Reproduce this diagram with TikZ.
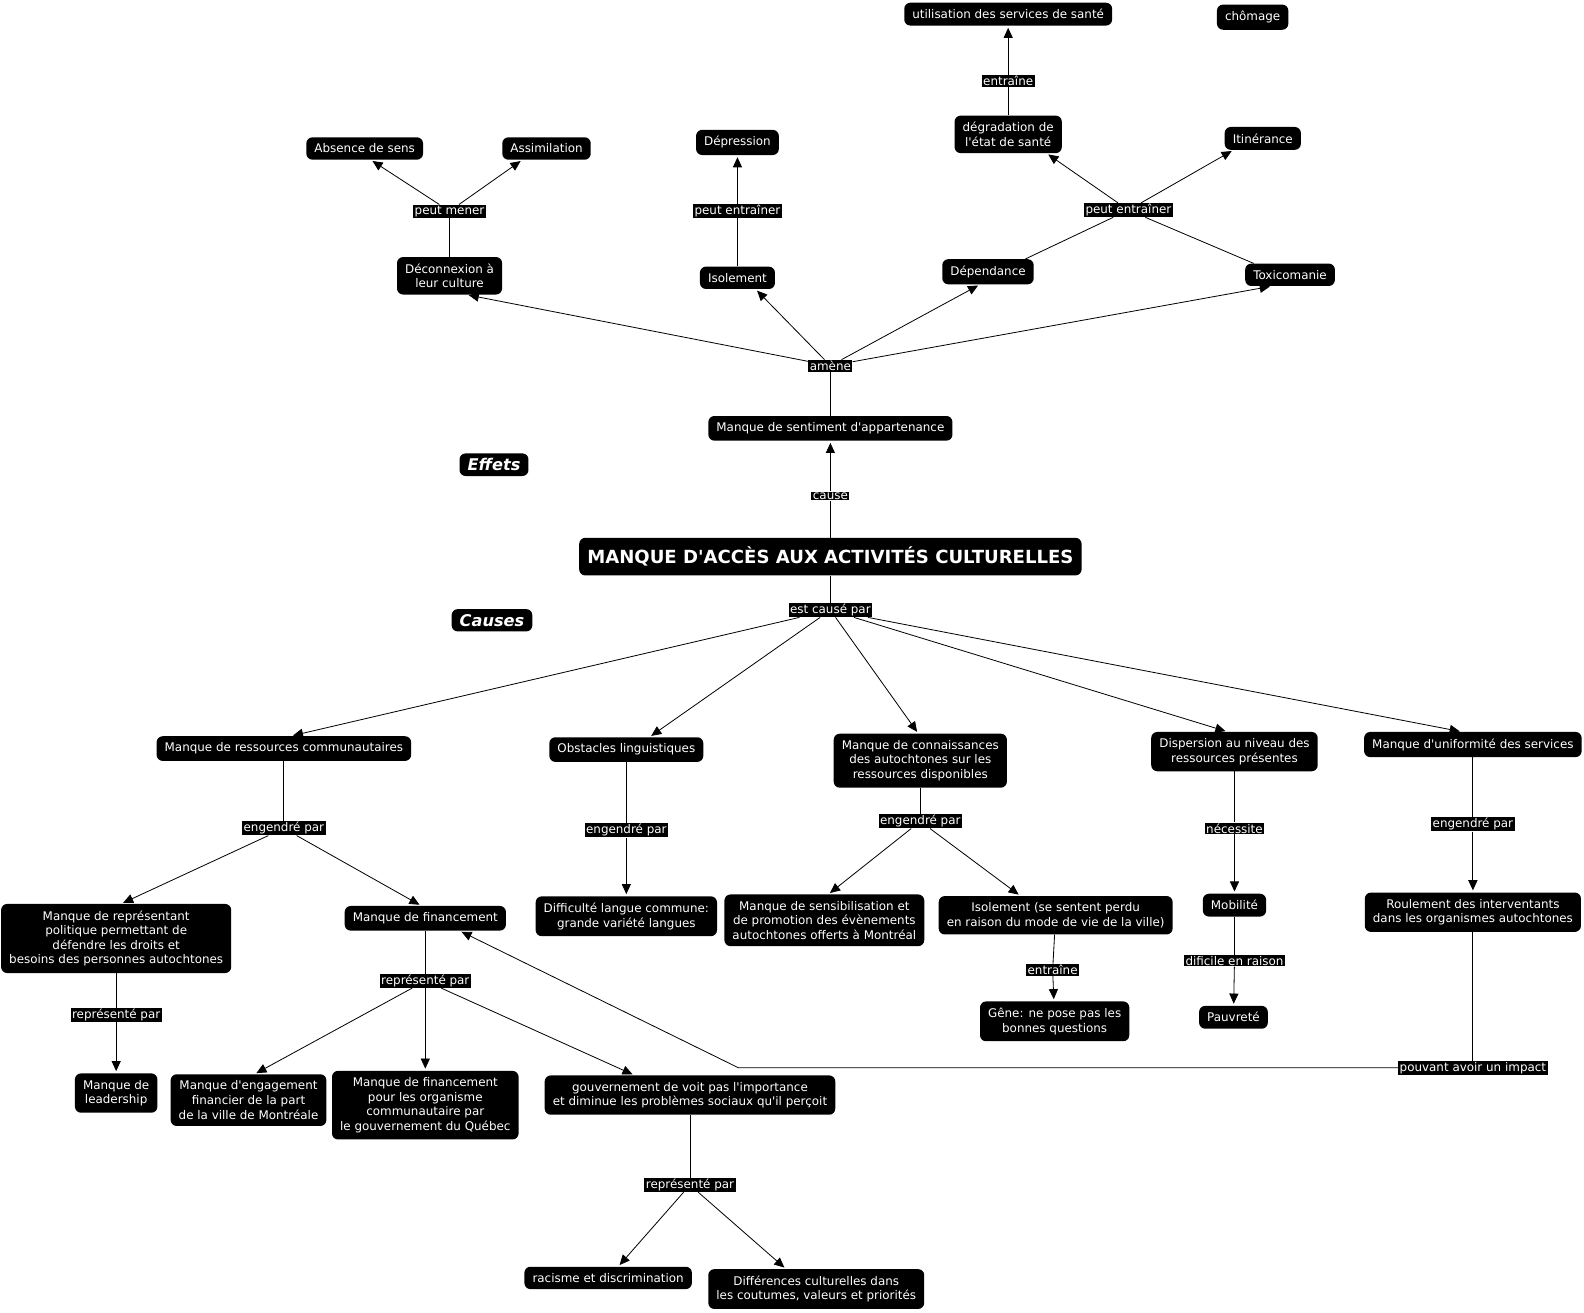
\documentclass[tikz,border=0pt]{standalone}
\usepackage{fontspec}
\setmainfont{DejaVu Sans}[Ligatures=ResetAll]
\usetikzlibrary{arrows.meta}
\newcommand{\sq}{\XeTeXglyph\XeTeXcharglyph"0027\relax}
\begin{document}
\begin{tikzpicture}[x=1pt,y=-1pt,
 concept/.style={fill=black, text=white, rounded corners=6pt, inner xsep=8pt, inner ysep=6.5pt, align=center, font=\fontsize{11.8}{14.5}\selectfont},
 lbl/.style={fill=black, text=white, inner xsep=1.5pt, inner ysep=1pt, font=\fontsize{11.8}{14}\selectfont},
 link/.style={draw=black, line width=0.8pt},
 arr/.style={link, -{Triangle[length=10pt,width=9pt]}, shorten >=2pt},
 section/.style={fill=black, text=white, rounded corners=6pt, inner xsep=8pt, inner ysep=5pt, font=\bfseries\itshape\fontsize{16}{18}\selectfont}
]
\useasboundingbox (0,0) rectangle (1568,1299);
% ---- effects ----
\node[concept] (util) at (998,14) {utilisation des services de santé};
\node[concept] (chom) at (1240,17) {chômage};
\node[lbl] (lentr1) at (998,80) {entraîne};
\node[concept] (degr) at (998,133) {dégradation de\\l\sq{}état de santé};
\node[concept] (itin) at (1250,137) {Itinérance};
\node[lbl] (lpe2) at (1117,208) {peut entraîner};
\node[concept] (depd) at (978,269) {Dépendance};
\node[concept] (toxi) at (1277,272) {Toxicomanie};
\node[concept] (abs) at (361,147) {Absence de sens};
\node[concept] (assim) at (541,147) {Assimilation};
\node[lbl] (lmener) at (445,209) {peut mener};
\node[concept] (deco) at (445,273) {Déconnexion à\\leur culture};
\node[concept] (depr) at (730,141) {Dépression};
\node[lbl] (lpe1) at (730,209) {peut entraîner};
\node[concept] (isol) at (730,275) {Isolement};
\node[lbl] (lamene) at (822,362) {amène};
\node[concept] (sent) at (822,424) {Manque de sentiment d\sq{}appartenance};
\node[section] (effets) at (489,460) {Effets};
\node[lbl] (lcause) at (822,491) {cause};
\node[concept, inner ysep=9pt, font=\bfseries\fontsize{17.9}{20}\selectfont] (main) at (822,551) {MANQUE D\sq{}ACCÈS AUX ACTIVITÉS CULTURELLES};
\node[section] (causes) at (487,614) {Causes};
\node[lbl] (lcausepar) at (822,604) {est causé par};
% ---- causes ----
\node[concept] (ress) at (281,741) {Manque de ressources communautaires};
\node[concept] (obst) at (620,742) {Obstacles linguistiques};
\node[concept] (conn) at (911,753) {Manque de connaissances\\des autochtones sur les\\ressources disponibles};
\node[concept] (disp) at (1222,744) {Dispersion au niveau des\\ressources présentes};
\node[concept] (unif) at (1458,737) {Manque d\sq{}uniformité des services};
\node[lbl] (leng1) at (281,820) {engendré par};
\node[lbl] (leng2) at (620,822) {engendré par};
\node[lbl] (leng3) at (911,813) {engendré par};
\node[lbl] (lnec) at (1222,820) {nécessite};
\node[lbl] (leng4) at (1458,816) {engendré par};
\node[concept] (rep) at (115,929) {Manque de représentant\\politique permettant de\\défendre les droits et\\besoins des personnes autochtones};
\node[concept] (fin) at (421,909) {Manque de financement};
\node[concept] (diffl) at (620,907) {Difficulté langue commune:\\grande variété langues};
\node[concept] (sens) at (816,911) {Manque de sensibilisation et\\de promotion des évènements\\autochtones offerts à Montréal};
\node[concept] (iso2) at (1045,906) {Isolement (se sentent perdu\\en raison du mode de vie de la ville)};
\node[lbl] (lentr2) at (1042,960) {entraîne};
\node[concept] (gene) at (1044,1011) {Gêne: ne pose pas les\\bonnes questions};
\node[concept] (mob) at (1222,896) {Mobilité};
\node[lbl] (ldif) at (1222,951) {dificile en raison};
\node[concept] (pauv) at (1221,1007) {Pauvreté};
\node[concept] (roul) at (1458,903) {Roulement des interventants\\dans les organismes autochtones};
\node[lbl] (limpact) at (1458,1057) {pouvant avoir un impact};
\node[lbl] (lrep1) at (115,1005) {représenté par};
\node[concept] (lead) at (115,1082) {Manque de\\leadership};
\node[lbl] (lrep2) at (421,971) {représenté par};
\node[concept] (eng) at (246,1089) {Manque d\sq{}engagement\\financier de la part\\de la ville de Montréale};
\node[concept] (finqc) at (421,1094) {Manque de financement\\pour les organisme\\communautaire par\\le gouvernement du Québec};
\node[concept] (gov) at (683,1084) {gouvernement de voit pas l\sq{}importance\\et diminue les problèmes sociaux qu\sq{}il perçoit};
\node[lbl] (lrep3) at (683,1173) {représenté par};
\node[concept] (rac) at (602,1265) {racisme et discrimination};
\node[concept] (diff) at (808,1276) {Différences culturelles dans\\les coutumes, valeurs et priorités};
\coordinate (bend) at (731,1057);
% ---- connectors (effects) ----
\draw[link] (sent) -- (lamene);
\draw[arr] (lamene) -- ([xshift=17pt]deco.south);
\draw[arr] (lamene) -- ([xshift=18pt]isol.south);
\draw[arr] (lamene) -- ([xshift=-8pt]depd.south);
\draw[arr] (lamene) -- ([xshift=-18pt]toxi.south);
\draw[link] (deco) -- (lmener);
\draw[arr] (lmener) -- ([xshift=6pt]abs.south);
\draw[arr] (lmener) -- ([xshift=-24pt]assim.south);
\draw[link] (isol) -- (lpe1);
\draw[arr] (lpe1) -- (depr);
\draw[link] ([xshift=37pt]depd.north) -- (lpe2);
\draw[link] ([xshift=-36pt]toxi.north) -- (lpe2);
\draw[arr] (lpe2) -- ([xshift=38pt]degr.south);
\draw[arr] (lpe2) -- ([xshift=-29pt]itin.south);
\draw[link] (degr) -- (lentr1);
\draw[arr] (lentr1) -- (util);
\draw[link] (main) -- (lcause);
\draw[arr] (lcause) -- (sent);
% ---- connectors (causes) ----
\draw[link] (main) -- (lcausepar);
\draw[arr] (lcausepar) -- ([xshift=7pt]ress.north);
\draw[arr] (lcausepar) -- ([xshift=23pt]obst.north);
\draw[arr] (lcausepar) -- ([xshift=-2pt]conn.north);
\draw[arr] (lcausepar) -- ([xshift=-7pt]disp.north);
\draw[arr] (lcausepar) -- ([xshift=-11pt]unif.north);
\draw[link] (ress) -- (leng1);
\draw[arr] (leng1) -- ([xshift=5pt]rep.north);
\draw[arr] (leng1) -- ([xshift=-4pt]fin.north);
\draw[link] (rep) -- (lrep1);
\draw[arr] (lrep1) -- (lead);
\draw[link] (fin) -- (lrep2);
\draw[arr] (lrep2) -- ([xshift=6pt]eng.north);
\draw[arr] (lrep2) -- (finqc);
\draw[arr] (lrep2) -- ([xshift=-55pt]gov.north);
\draw[link] (gov) -- (lrep3);
\draw[arr] (lrep3) -- ([xshift=10pt]rac.north);
\draw[arr] (lrep3) -- ([xshift=-30pt]diff.north);
\draw[link] (obst) -- (leng2);
\draw[arr] (leng2) -- (diffl);
\draw[link] (conn) -- (leng3);
\draw[arr] (leng3) -- ([xshift=4pt]sens.north);
\draw[arr] (leng3) -- ([xshift=-35pt]iso2.north);
\draw[link] (iso2) -- (lentr2);
\draw[arr] (lentr2) -- (gene);
\draw[link] (disp) -- (lnec);
\draw[arr] (lnec) -- (mob);
\draw[link] (mob) -- (ldif);
\draw[arr] (ldif) -- (pauv);
\draw[link] (unif) -- (leng4);
\draw[arr] (leng4) -- (roul);
\draw[link] (roul) -- (limpact);
\draw[arr] (limpact.west) -- (bend) -- ([xshift=34pt]fin.south);
\end{tikzpicture}
\end{document}
